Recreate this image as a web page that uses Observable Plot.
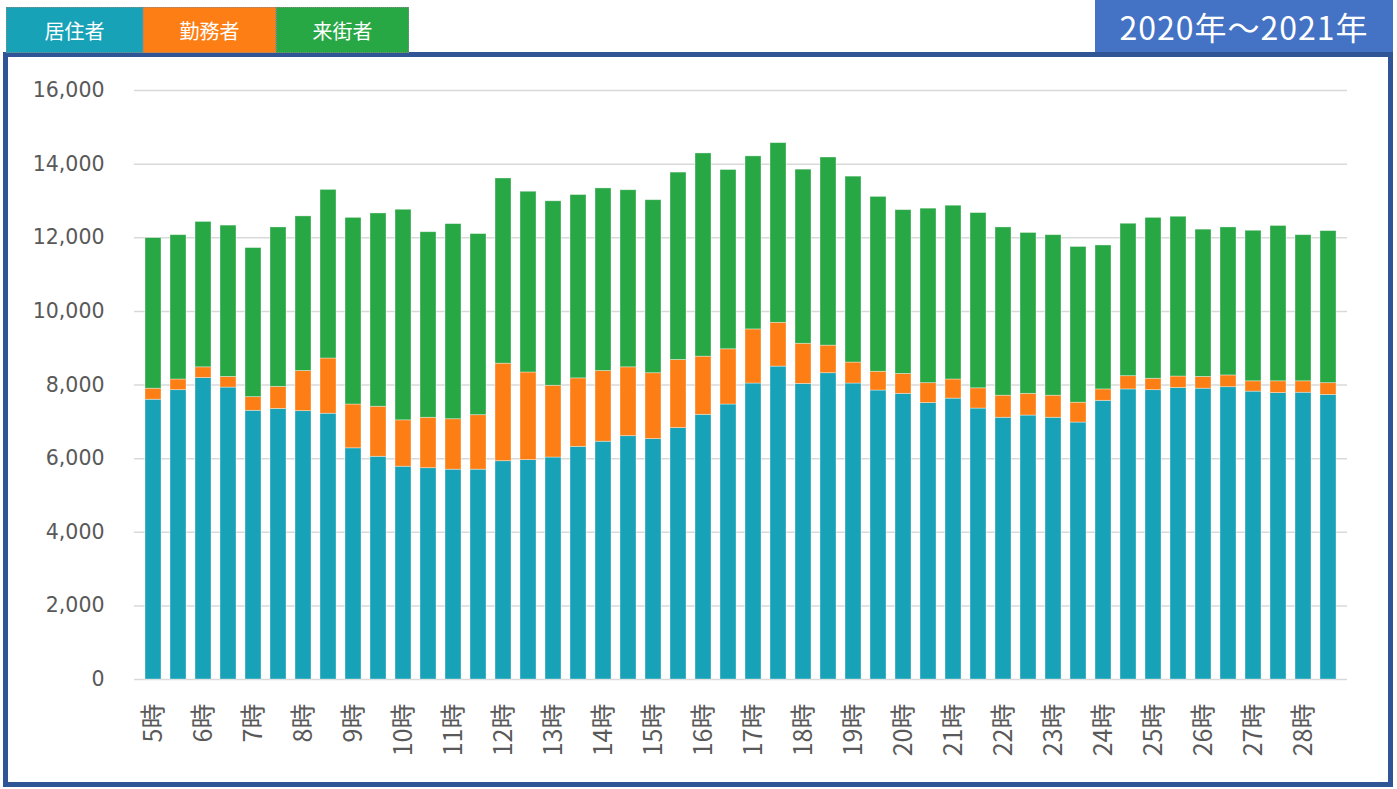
<!DOCTYPE html>
<html><head><meta charset="utf-8">
<script src="https://cdn.jsdelivr.net/npm/d3@7"></script>
<script src="https://cdn.jsdelivr.net/npm/@observablehq/plot@0.6"></script>
<style>
html,body{margin:0;padding:0;background:#fff;}
#wrap{position:relative;width:1397px;height:789px;overflow:hidden;font-family:"Noto Sans CJK JP","Noto Sans",sans-serif;}
#frame{position:absolute;left:3px;top:52px;width:1390px;height:735px;box-sizing:border-box;border:5px solid #2F5597;}
#legend{position:absolute;left:6px;top:7px;display:flex;}
#legend div{height:46px;line-height:46px;color:#fff;font-size:20px;text-align:center;box-sizing:border-box;border:1px dotted #8a8a8a;}
#title{position:absolute;left:1095px;top:0;width:298px;height:52px;line-height:52px;background:#4472C4;color:#fff;font-size:32px;letter-spacing:1px;text-align:center;}
#chart{position:absolute;left:0;top:0;}
</style>
</head><body>
<div id="wrap">
  <div id="frame"></div>
  <div id="legend"></div>
  <div id="title"></div>
  <div id="chart"></div>
</div>
<script>
const titleText = "2020年～2021年";
const types = ["居住者", "勤務者", "来街者"];
const colors = ["#17A2B8", "#FD7E14", "#28A745"];
const legendWidths = [137, 133, 133];
const hours = ["5時","6時","7時","8時","9時","10時","11時","12時","13時","14時","15時","16時","17時","18時","19時","20時","21時","22時","23時","24時","25時","26時","27時","28時"];
const slots = hours.flatMap(h => [h, h.replace("時", "時30分")]);
const residents = [7600,7860,8190,7930,7300,7350,7290,7220,6280,6050,5780,5740,5700,5700,5930,5960,6030,6320,6460,6610,6530,6830,7190,7470,8040,8500,8030,8320,8040,7850,7760,7510,7630,7360,7110,7170,7110,6980,7570,7880,7860,7920,7900,7940,7820,7780,7790,7730];
const workers = [300,290,290,290,370,600,1090,1500,1190,1360,1260,1370,1370,1480,2650,2380,1950,1860,1920,1870,1790,1850,1580,1500,1470,1190,1090,750,570,510,540,540,520,550,600,590,600,540,310,360,310,310,320,320,280,320,310,320];
const visitors = [4090,3920,3950,4110,4050,4330,4200,4580,5070,5250,5720,5040,5300,4920,5030,4910,5010,4980,4960,4810,4700,5090,5520,4870,4700,4880,4730,5110,5050,4750,4450,4740,4720,4760,4570,4370,4360,4230,3910,4140,4370,4340,4000,4020,4090,4220,3970,4130];
const yTicks = [0,2000,4000,6000,8000,10000,12000,14000,16000];

document.getElementById("title").textContent = titleText;
const legend = document.getElementById("legend");
types.forEach((t, i) => {
  const d = document.createElement("div");
  d.textContent = t;
  d.style.background = colors[i];
  d.style.width = legendWidths[i] + "px";
  legend.appendChild(d);
});

const series = [residents, workers, visitors];
const data = [];
slots.forEach((s, i) => {
  types.forEach((t, k) => data.push({slot: s, type: t, value: series[k][i]}));
});

const chart = Plot.plot({
  width: 1397,
  height: 789,
  marginLeft: 134,
  marginRight: 50,
  marginTop: 90,
  marginBottom: 110,
  style: {fontFamily: '"DejaVu Sans","Noto Sans CJK JP",sans-serif', background: "transparent", overflow: "visible"},
  x: {domain: slots, paddingInner: 0.36, paddingOuter: 0.18},
  y: {domain: [0, 16000]},
  color: {domain: types, range: colors},
  marks: [
    Plot.gridY({ticks: yTicks, stroke: "#d9d9d9", strokeOpacity: 1, strokeWidth: 1.5}),
    Plot.barY(data, Plot.stackY({x: "slot", y: "value", fill: "type", stroke: "#ffffff", strokeOpacity: 0.45, strokeWidth: 0.8})),
    Plot.axisY({ticks: yTicks, tickFormat: d3.format(","), tickSize: 0, tickPadding: 30, fontSize: 20.5, fontFamily: '"DejaVu Sans",sans-serif', fill: "#595959", label: null}),
    Plot.axisX({ticks: hours, tickFormat: d => d, tickRotate: -90, tickSize: 0, tickPadding: 24, fontSize: 25, fontFamily: '"Noto Sans CJK JP",sans-serif', fill: "#595959", label: null})
  ]
});
document.getElementById("chart").appendChild(chart);
</script>
</body></html>
